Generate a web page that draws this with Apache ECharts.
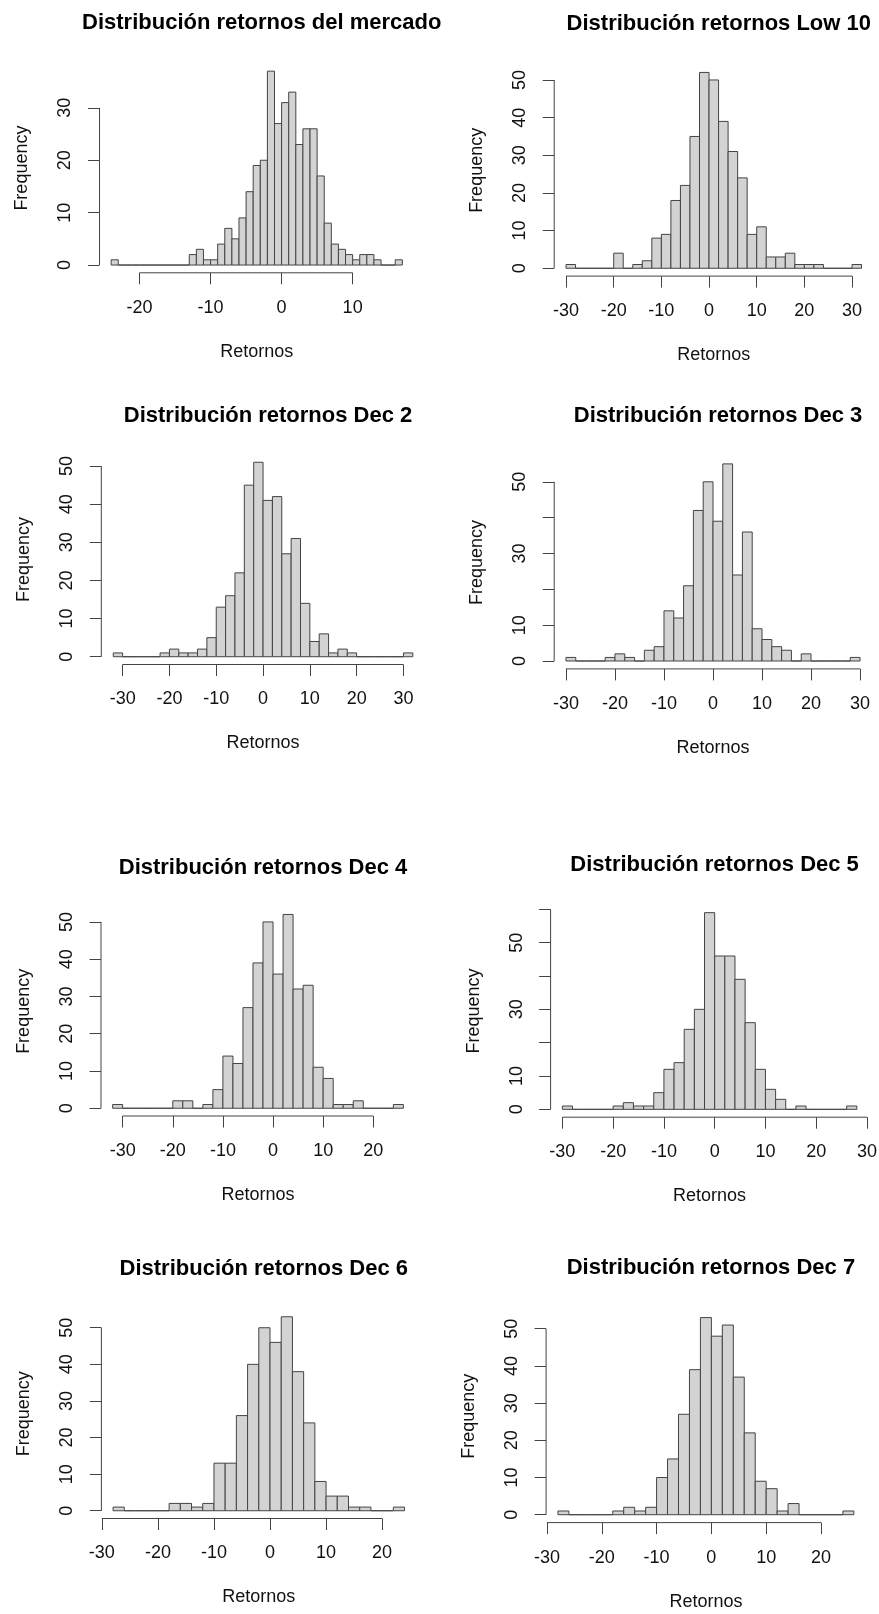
<!DOCTYPE html>
<html><head><meta charset="utf-8">
<script src="https://cdn.jsdelivr.net/npm/echarts@6/dist/echarts.min.js"></script>
<style>html,body{margin:0;padding:0;background:#fff}#c{width:879px;height:1614px}</style>
</head><body><div id="c"></div>
<script>
// ---- data ----
const titles = [
  'Distribución retornos del mercado', 'Distribución retornos Low 10',
  'Distribución retornos Dec 2', 'Distribución retornos Dec 3',
  'Distribución retornos Dec 4', 'Distribución retornos Dec 5',
  'Distribución retornos Dec 6', 'Distribución retornos Dec 7'
];
const xAxisTitle = 'Retornos';
const yAxisTitle = 'Frequency';
const binStarts = [-24, -30, -32, -30, -32, -30, -28, -28];
const binWidths = [1, 2, 2, 2, 2, 2, 2, 2];

const countsMercado = [1,0,0,0,0,0,0,0,0,0,0,2,3,1,1,4,7,5,9,14,19,20,37,27,31,33,23,26,26,17,8,4,3,2,1,2,2,1,0,0,1];
const countsLow10 = [1,0,0,0,0,4,0,1,2,8,9,18,22,35,52,50,39,31,24,9,11,3,3,4,1,1,1,0,0,0,1];
const countsDec2 = [1,0,0,0,0,1,2,1,1,2,5,13,16,22,45,51,41,42,27,31,14,4,6,1,2,1,0,0,0,0,0,1];
const countsDec3 = [1,0,0,0,1,2,1,0,3,4,14,12,21,42,50,39,55,24,36,9,6,4,3,0,2,0,0,0,0,1];
const countsDec4 = [1,0,0,0,0,0,2,2,0,1,5,14,12,27,39,50,36,52,32,33,11,8,1,1,2,0,0,0,1];
const countsDec5 = [1,0,0,0,0,1,2,1,1,5,12,14,24,30,59,46,46,39,26,12,6,3,0,1,0,0,0,0,1];
const countsDec6 = [1,0,0,0,0,2,2,1,2,13,13,26,40,50,46,53,38,24,8,4,4,1,1,0,0,1];
const countsDec7 = [1,0,0,0,0,1,2,1,2,10,15,27,39,53,48,51,37,22,9,7,1,3,0,0,0,0,1];
const allCounts = [countsMercado, countsLow10, countsDec2, countsDec3, countsDec4, countsDec5, countsDec6, countsDec7];

const xTicks = [
  [-20,-10,0,10], [-30,-20,-10,0,10,20,30], [-30,-20,-10,0,10,20,30], [-30,-20,-10,0,10,20,30],
  [-30,-20,-10,0,10,20], [-30,-20,-10,0,10,20,30], [-30,-20,-10,0,10,20], [-30,-20,-10,0,10,20]
];
const yTicks = [
  [0,10,20,30], [0,10,20,30,40,50], [0,10,20,30,40,50], [0,10,20,30,40,50],
  [0,10,20,30,40,50], [0,10,20,30,40,50,60], [0,10,20,30,40,50], [0,10,20,30,40,50]
];
const yLabels = [
  [0,10,20,30], [0,10,20,30,40,50], [0,10,20,30,40,50], [0,10,30,50],
  [0,10,20,30,40,50], [0,10,30,50], [0,10,20,30,40,50], [0,10,20,30,40,50]
];

// ---- layout (plot regions: left, top, width, height, title center y) ----
const layout = [
  [99.5, 63.4, 314.5, 209.4, 18.6],
  [554.2, 64.6, 319.2, 211.5, 19.3],
  [101.3, 454.5, 323.5, 210.0, 411.7],
  [554.2, 456.0, 317.6, 212.9, 411.7],
  [101.0, 906.7, 314.0, 209.3, 863.3],
  [550.6, 904.8, 318.0, 212.4, 860.7],
  [101.4, 1309.0, 314.8, 209.5, 1264.3],
  [546.1, 1309.7, 319.6, 212.9, 1263.3]
];

const FONT = "'Liberation Sans', Arial, sans-serif";
const LINE = '#444';
const FILL = '#D3D3D3';
const LABEL_SIZE = 18;
const TITLE_SIZE = 22;

const chart = echarts.init(document.getElementById('c'), null, {renderer: 'canvas'});
const option = {animation: false, title: [], grid: [], xAxis: [], yAxis: [], series: []};

allCounts.forEach((counts, i) => {
  const L = layout[i];
  const start = binStarts[i], w = binWidths[i];
  const end = start + w * counts.length;
  const xpad = 0.04 * (end - start);
  const ymax = Math.max.apply(null, counts);
  const ypad = 0.04 * ymax;
  const xmin = start - xpad, xmax = end + xpad, ymin = -ypad, ymaxA = ymax + ypad;

  option.grid.push({left: L[0], top: L[1], width: L[2], height: L[3], containLabel: false, outerBoundsMode: 'none'});
  option.title.push({
    text: titles[i], left: L[0] + L[2] / 2, top: L[4] - 11.5, textAlign: 'center',
    textStyle: {fontFamily: FONT, fontSize: TITLE_SIZE, fontWeight: 'bold', color: '#000'}
  });
  option.xAxis.push({
    type: 'value', gridIndex: i, min: xmin, max: xmax,
    axisLine: {show: false, onZero: false}, splitLine: {show: false},
    axisTick: {show: true, customValues: xTicks[i], length: 11.5, lineStyle: {color: LINE, width: 1}},
    axisLabel: {customValues: xTicks[i], fontSize: LABEL_SIZE, fontFamily: FONT, color: '#111', margin: 26},
    name: xAxisTitle, nameLocation: 'middle', nameGap: 70,
    nameTextStyle: {fontSize: LABEL_SIZE, fontFamily: FONT, color: '#111'}
  });
  option.yAxis.push({
    type: 'value', gridIndex: i, min: ymin, max: ymaxA,
    axisLine: {show: false, onZero: false}, splitLine: {show: false},
    axisTick: {show: true, customValues: yTicks[i], length: 11.5, lineStyle: {color: LINE, width: 1}},
    axisLabel: {customValues: yLabels[i], fontSize: LABEL_SIZE, fontFamily: FONT, color: '#111', margin: 25, rotate: 90},
    name: yAxisTitle, nameLocation: 'middle', nameGap: 68,
    nameTextStyle: {fontSize: LABEL_SIZE, fontFamily: FONT, color: '#111'}
  });

  const bars = counts.map((c, k) => [start + k * w, start + (k + 1) * w, c]);
  option.series.push({
    type: 'custom', xAxisIndex: i, yAxisIndex: i,
    data: bars, encode: {x: [0, 1], y: 2},
    renderItem: function (params, api) {
      const p0 = api.coord([api.value(0), api.value(2)]);
      const p1 = api.coord([api.value(1), 0]);
      return {
        type: 'polygon',
        shape: {points: [[p0[0], p1[1]], [p0[0], p0[1]], [p1[0], p0[1]], [p1[0], p1[1]]]},
        style: {fill: FILL, stroke: LINE, lineWidth: 1}
      };
    }
  });

  const xt = xTicks[i], yt = yTicks[i];
  option.series.push({
    type: 'custom', xAxisIndex: i, yAxisIndex: i, clip: false,
    data: [[xt[0], 0]],
    renderItem: function (params, api) {
      const a = api.coord([xt[0], ymin]);
      const b = api.coord([xt[xt.length - 1], ymin]);
      const c = api.coord([xmin, yt[0]]);
      const d = api.coord([xmin, yt[yt.length - 1]]);
      return {
        type: 'group',
        children: [
          {type: 'line', shape: {x1: a[0], y1: a[1], x2: b[0], y2: b[1]}, style: {stroke: LINE, lineWidth: 1}},
          {type: 'line', shape: {x1: c[0], y1: c[1], x2: d[0], y2: d[1]}, style: {stroke: LINE, lineWidth: 1}}
        ]
      };
    }
  });
});

chart.setOption(option);
</script>
</body></html>
